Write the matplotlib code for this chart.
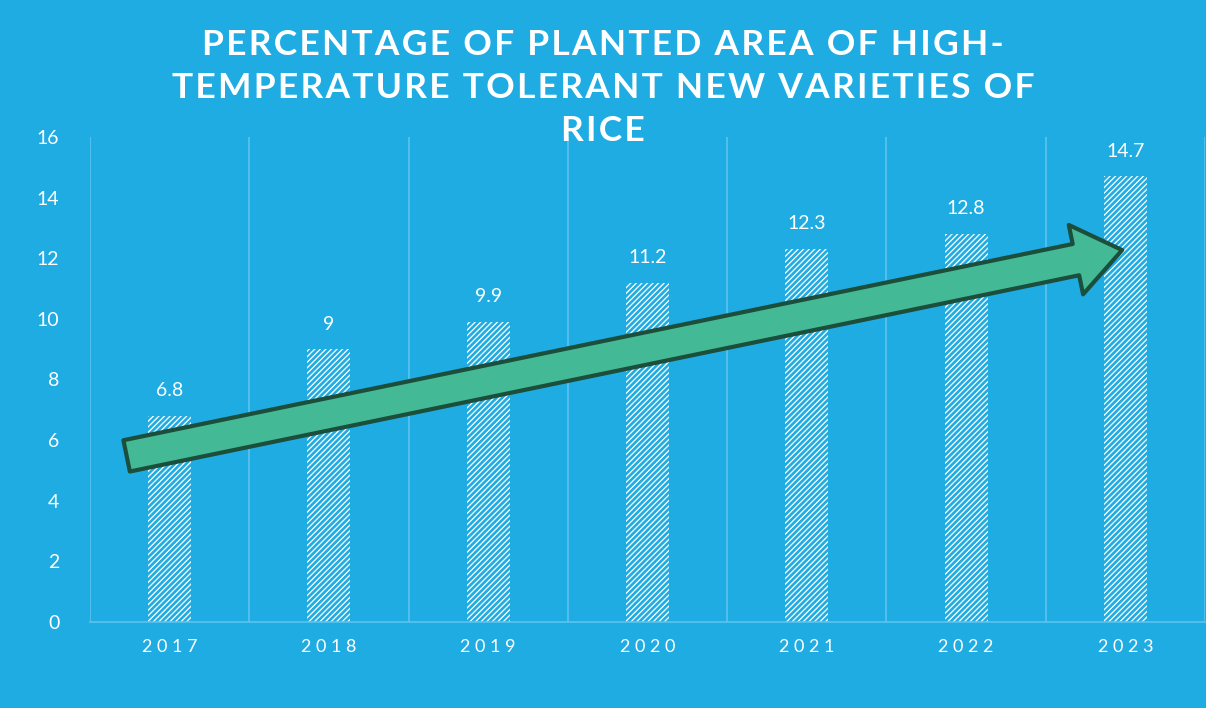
import numpy as np
import matplotlib
matplotlib.use("Agg")
import matplotlib.pyplot as plt
from matplotlib.patches import FancyArrowPatch

years = ["2017", "2018", "2019", "2020", "2021", "2022", "2023"]
share = [6.8, 9, 9.9, 11.2, 12.3, 12.8, 14.7]
value_labels = ["6.8", "9", "9.9", "11.2", "12.3", "12.8", "14.7"]
yticks = [0, 2, 4, 6, 8, 10, 12, 14, 16]
title_lines = ["PERCENTAGE OF PLANTED AREA OF HIGH-",
               "TEMPERATURE TOLERANT NEW VARIETIES OF",
               "RICE"]

bg = "#1FACE3"
grid_col = "#5CC4EE"
plt.rcParams['font.family'] = ['Lato', 'DejaVu Sans']
plt.rcParams['hatch.linewidth'] = 1.9


def spaced(s, sep="\u200a"):
    # widen tracking by putting a hair space between letters
    return sep.join(s)


fig = plt.figure(figsize=(12.06, 7.08), dpi=100, facecolor=bg)
ax = fig.add_axes([90/1206, 86/708, 1115/1206, 485/708])
ax.set_facecolor(bg)

x = np.arange(len(years))
bars = ax.bar(x, share, width=0.27, color="white", edgecolor=bg,
              linewidth=0, hatch="//////", zorder=2)

for xi, v, lab in zip(x, share, value_labels):
    ax.text(xi, v + 0.55, lab, ha="center", va="bottom", color="white",
            fontsize=14, zorder=4)

# separators between the year columns
for b in np.arange(-0.5, len(years) + 0.5, 1.0):
    ax.axvline(b, color=grid_col, lw=1.2, zorder=1)

ax.set_xlim(-0.5, len(years) - 0.5)
ax.set_ylim(0, 16)
ax.set_yticks(yticks)
ax.set_yticklabels([str(t) for t in yticks], color="white", fontsize=14)
ax.set_xticks(x)
ax.set_xticklabels([" ".join(y) for y in years], color="white", fontsize=13)
ax.tick_params(axis="both", length=0)
ax.tick_params(axis="x", pad=12)
ax.tick_params(axis="y", pad=22)
for s in ["top", "right", "left"]:
    ax.spines[s].set_visible(False)
ax.spines["bottom"].set_color(grid_col)
ax.spines["bottom"].set_linewidth(1.2)

# trend arrow
arrow = FancyArrowPatch((-0.27, 5.48), (5.98, 12.27),
                        arrowstyle="simple,head_length=34,head_width=51,tail_width=23",
                        mutation_scale=1, shrinkA=0, shrinkB=0,
                        facecolor="#43BA95", edgecolor="#1B4E3B", lw=3,
                        zorder=3, clip_on=False)
ax.add_patch(arrow)

for i, line in enumerate(title_lines):
    fig.text(0.5, 1 - (45 + 43 * i)/708, spaced(line),
             ha="center", va="center", color="white", fontsize=25.5,
             fontweight="bold")

fig.savefig("out.png", dpi=100, facecolor=bg)
